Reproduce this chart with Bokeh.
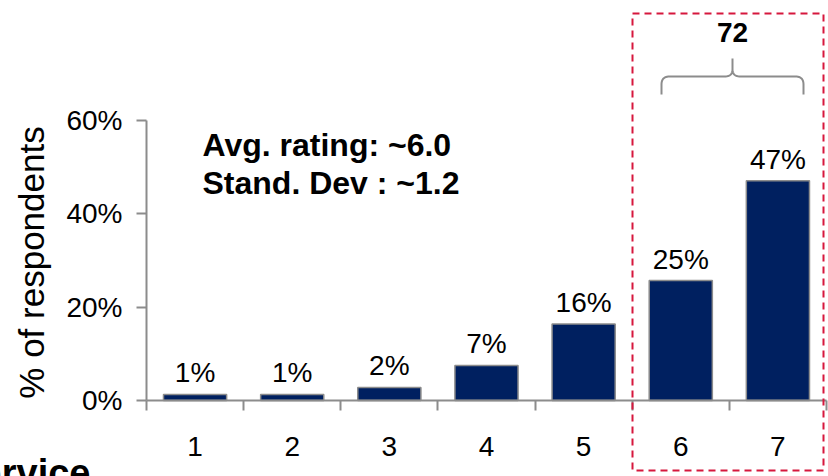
import math
from bokeh.plotting import figure
from bokeh.models import (Range1d, FixedTicker, Label, BoxAnnotation, ColumnDataSource)
from bokeh.core.properties import value
from bokeh.embed import file_html
from bokeh.resources import INLINE

# ---- data ----
categories = ["1", "2", "3", "4", "5", "6", "7"]
shares = [1.3, 1.3, 2.8, 7.5, 16.4, 25.7, 47.1]
share_labels = ["1%", "1%", "2%", "7%", "16%", "25%", "47%"]
y_ticks = [0, 20, 40, 60]
y_tick_labels = ["0%", "20%", "40%", "60%"]
stats_lines = ["Avg. rating: ~6.0", "Stand. Dev : ~1.2"]
top2_label = "72"
y_title = "% of respondents"
cut_title = "Service"

FONT = "Liberation Sans"
NAVY = "#002060"
GRAY = "#8c8c8c"
RED = "#d6173d"

W, H = 828, 476
PX_X = 97.14   # px per category
PX_Y = 4.667   # px per percent


def dx(X):  # page-pixel x -> data x
    return 0.5 + (X - 146) / PX_X


def dy(Y):  # page-pixel y -> data y
    return (400 - Y) / PX_Y


xs = list(range(1, len(categories) + 1))

p = figure(width=W, height=H, output_backend="svg", toolbar_location=None,
           x_range=Range1d(dx(0), dx(W)), y_range=Range1d(dy(H), dy(0)),
           min_border=0, min_border_left=0, min_border_right=0,
           min_border_top=0, min_border_bottom=0)
p.outline_line_color = None
p.xgrid.visible = False
p.ygrid.visible = False
p.background_fill_color = "white"
p.border_fill_color = "white"

label_y = [v + 21.5 / PX_Y for v in shares]
src = ColumnDataSource(dict(x=xs, top=shares, lab=share_labels, ly=label_y))
p.vbar(x="x", top="top", width=0.65, source=src, fill_color=NAVY,
       line_color=GRAY, line_width=1.5)
p.text(x="x", y="ly", text="lab", source=src, text_align="center",
       text_baseline="alphabetic", text_font=value(FONT),
       text_font_size=value("28px"), text_color="black")

# x axis (drawn inside the frame at y = 0)
xa = p.xaxis[0]
xa.fixed_location = 0
xa.ticker = FixedTicker(ticks=xs, minor_ticks=[i + 0.5 for i in range(0, len(categories) + 1)])
xa.major_label_overrides = {i: c for i, c in zip(xs, categories)}
xa.bounds = (0.5, 7.5)
xa.axis_line_color = GRAY
xa.axis_line_width = 2
xa.major_tick_out = 0
xa.major_tick_in = 0
xa.minor_tick_out = 10
xa.minor_tick_in = 0
xa.minor_tick_line_color = GRAY
xa.minor_tick_line_width = 2
xa.major_label_standoff = 26
xa.major_label_text_font = FONT
xa.major_label_text_font_size = "28px"
xa.major_label_text_color = "black"

# y axis (drawn inside the frame at x = 0.5)
ya = p.yaxis[0]
ya.fixed_location = 0.5
ya.ticker = FixedTicker(ticks=y_ticks)
ya.major_label_overrides = {t: l for t, l in zip(y_ticks, y_tick_labels)}
ya.bounds = (0, 60)
ya.axis_line_color = GRAY
ya.axis_line_width = 2
ya.major_tick_out = 10
ya.major_tick_in = 0
ya.major_tick_line_color = GRAY
ya.major_tick_line_width = 2
ya.minor_tick_out = 0
ya.minor_tick_in = 0
ya.major_label_standoff = 14
ya.major_label_text_font = FONT
ya.major_label_text_font_size = "28px"
ya.major_label_text_color = "black"

# y title
p.add_layout(Label(x=dx(31), y=dy(262), text=y_title, angle=math.pi / 2,
                   text_align="center", text_baseline="middle",
                   text_font=FONT, text_font_size="35px", text_color="black"))

# stats text
for i, line in enumerate(stats_lines):
    p.add_layout(Label(x=dx(202), y=dy(144 + 38 * i), text=line,
                       text_align="left", text_baseline="alphabetic",
                       text_font=FONT, text_font_size="32px",
                       text_font_style="bold", text_color="black"))

# red dashed box around top-2
p.add_layout(BoxAnnotation(left=dx(632), right=dx(823), top=dy(13), bottom=dy(470),
                           fill_alpha=0, line_color=RED, line_alpha=1,
                           line_width=2, line_dash="7 5"))

# brace
def quad(p0, c, p1, n=12):
    pts = []
    for k in range(n + 1):
        t = k / n
        x = (1 - t) ** 2 * p0[0] + 2 * (1 - t) * t * c[0] + t ** 2 * p1[0]
        y = (1 - t) ** 2 * p0[1] + 2 * (1 - t) * t * c[1] + t ** 2 * p1[1]
        pts.append((x, y))
    return pts

cx = 732
path = [(661, 94), (661, 84)]
path += quad((661, 84), (661, 76), (669, 76))
path += [(cx - 8, 76)]
path += quad((cx - 8, 76), (cx, 76), (cx, 69))
path += [(cx, 58), (cx, 69)]
path += quad((cx, 69), (cx, 76), (cx + 8, 76))
path += [(795, 76)]
path += quad((795, 76), (803, 76), (803, 84))
path += [(803, 94)]
p.line([dx(a) for a, b in path], [dy(b) for a, b in path], line_color=GRAY,
       line_width=2)

p.add_layout(Label(x=dx(cx), y=dy(32), text=top2_label, text_align="center",
                   text_baseline="alphabetic", text_font=FONT,
                   text_font_size="28px", text_font_style="bold",
                   text_color="black"))

# cut-off title at bottom left
p.add_layout(Label(x=dx(90), y=dy(472), text=cut_title, text_align="right",
                   text_baseline="alphabetic", text_font=FONT,
                   text_font_size="38px", text_font_style="bold",
                   text_color="black"))

open("out.html", "w").write(file_html(p, INLINE))
